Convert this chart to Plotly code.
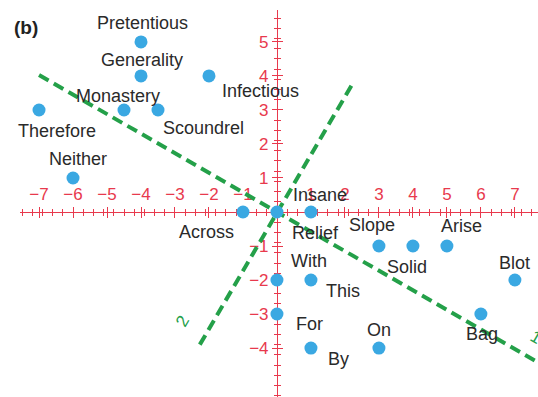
import plotly.graph_objects as go

# Word positions on the two-dimensional map
words = ["Pretentious", "Generality", "Infectious", "Monastery", "Scoundrel",
         "Therefore", "Neither", "Across", "Relief", "Insane",
         "Slope", "Solid", "Arise", "Blot", "With",
         "This", "For", "Bag", "By", "On"]
word_x = [-4, -4, -2, -4.5, -3.5,
          -7, -6, -1, 0, 1,
          3, 4, 5, 7, 0,
          1, 0, 6, 1, 3]
word_y = [5, 4, 4, 3, 3,
          3, 1, 0, 0, 0,
          -1, -1, -1, -2, -2,
          -2, -3, -3, -4, -4]

# Fitted dimension lines (through the origin)
dim1_x = [-7.0, 7.8]
dim1_y = [4.03, -4.49]
dim2_x = [-2.27, 2.24]
dim2_y = [-3.9, 3.8]
dim_names = ["1", "2"]
dim_label_x = [7.62, -2.78]
dim_label_y = [-3.7, -3.22]

x_ticks = [-7, -6, -5, -4, -3, -2, -1, 1, 2, 3, 4, 5, 6, 7]
y_ticks = [-4, -3, -2, -1, 1, 2, 3, 4, 5]

RED = "#e8394d"
GREEN = "#24a049"
BLUE = "#3aa8e2"
INK = "#2a2a2a"
FONT = "Liberation Sans, Arial, sans-serif"

W, H = 538, 397
M = dict(l=20, r=0, t=10, b=0)
x_range = [-7.56, 7.68]
y_range = [-5.44, 5.94]
x_zero = (0 - x_range[0]) / (x_range[1] - x_range[0])
y_zero = (0 - y_range[0]) / (y_range[1] - y_range[0])

# label placement (pixel offsets from each point)
label_shift = {
    "Pretentious": (1, -19), "Generality": (1, -16), "Infectious": (52, 15),
    "Monastery": (-6, -14), "Scoundrel": (45, 18), "Therefore": (18, 21),
    "Neither": (5, -19), "Across": (-36, 20), "Relief": (39, 21),
    "Insane": (9, -17), "Slope": (-7, -21), "Solid": (-6, 21),
    "Arise": (15, -20), "Blot": (0, -17), "With": (32, -19),
    "This": (32, 11), "For": (33, 10), "Bag": (1, 20),
    "By": (28, 11), "On": (0, -18),
}

fig = go.Figure()

fig.add_trace(go.Scatter(x=dim1_x, y=dim1_y, mode="lines", xaxis="x", yaxis="y",
                         line=dict(color=GREEN, width=4, dash="11px,6px"),
                         hoverinfo="skip", showlegend=False))
fig.add_trace(go.Scatter(x=dim2_x, y=dim2_y, mode="lines",
                         line=dict(color=GREEN, width=4, dash="11px,6px"),
                         hoverinfo="skip", showlegend=False))
fig.add_trace(go.Scatter(x=word_x, y=word_y, mode="markers", text=words,
                         marker=dict(color=BLUE, size=13, line=dict(width=0)),
                         cliponaxis=False, showlegend=False))
# companion axes carrying the opposite half of each tick
fig.add_trace(go.Scatter(x=[None], y=[None], xaxis="x2", yaxis="y2",
                         showlegend=False, hoverinfo="skip"))

for w, x, y in zip(words, word_x, word_y):
    dx, dy = label_shift[w]
    fig.add_annotation(x=x, y=y, text=w, showarrow=False, xshift=dx, yshift=-dy,
                       xanchor="center", yanchor="middle",
                       font=dict(family=FONT, size=18, color=INK))

for name, x, y, ang in zip(dim_names, dim_label_x, dim_label_y, [30, -60]):
    fig.add_annotation(x=x, y=y, text=name, showarrow=False, textangle=ang,
                       font=dict(family=FONT, size=17, color=GREEN))

fig.add_annotation(xref="paper", yref="paper", x=-0.016, y=(H - M["b"] - 27 - 0) / (H - M["t"] - M["b"]) + 0.0,
                   text="<b>(b)</b>", showarrow=False, xanchor="left", yanchor="middle",
                   font=dict(family=FONT, size=19, color="#222222"))

axis_common = dict(showgrid=False, zeroline=False, showline=True, linecolor=RED,
                   linewidth=1, tickcolor=RED, tickwidth=1.3, ticks="outside", ticklen=5,
                   layer="below traces", anchor="free", tickmode="array",
                   minor=dict(ticks="outside", ticklen=3, tickmode="linear", tick0=0,
                              dtick=0.3, tickcolor=RED, tickwidth=1.1, showgrid=False),
                   tickfont=dict(family=FONT, size=17, color=RED))

fig.update_layout(
    width=W, height=H, margin=M,
    paper_bgcolor="white", plot_bgcolor="white",
    xaxis=dict(axis_common, range=x_range, position=y_zero, side="bottom",
               tickvals=x_ticks, showticklabels=False),
    xaxis2=dict(axis_common, range=x_range, position=y_zero, side="top",
                overlaying="x", tickvals=x_ticks, showticklabels=True),
    yaxis=dict(axis_common, range=y_range, position=x_zero, side="left",
               tickvals=y_ticks, showticklabels=True),
    yaxis2=dict(axis_common, range=y_range, position=x_zero, side="right",
                overlaying="y", tickvals=y_ticks, showticklabels=False),
)

fig.write_html("out.html")
